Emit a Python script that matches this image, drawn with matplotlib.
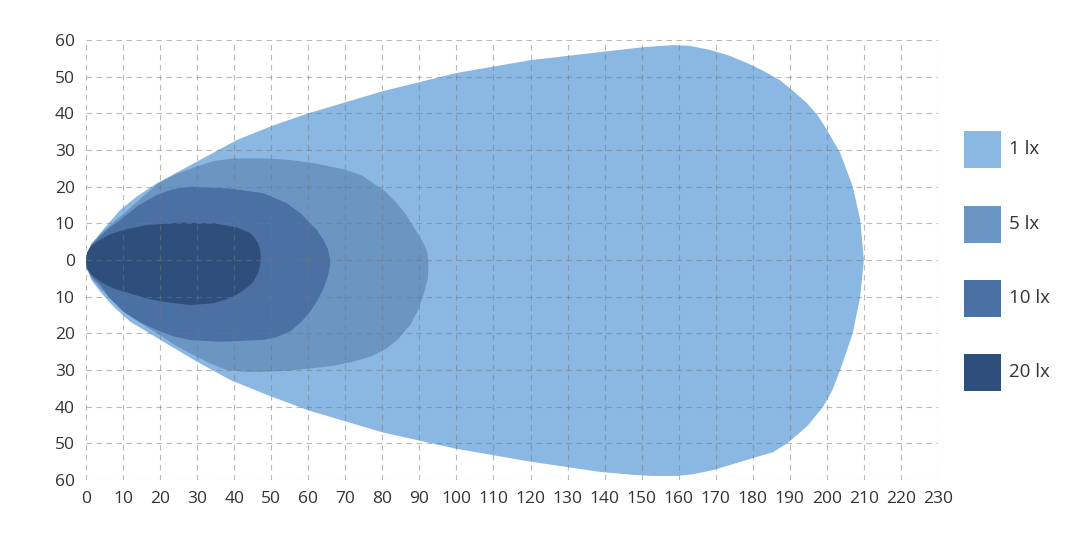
import matplotlib
matplotlib.use("Agg")
from matplotlib import pyplot as plt
from matplotlib.patches import Rectangle

plt.rcParams['font.family'] = ['Open Sans', 'DejaVu Sans']

# isolux outlines (x = distance, y = lateral)
lx1_x = [0, 0.3, 1.1, 3.8, 6.5, 9.2, 13.7, 19.1, 29.9, 40.7, 50, 60, 80, 100, 120, 138.8, 150,
         158.5, 163, 168.5, 173.5, 178.5, 183, 187.4, 191, 194.6, 197.5, 200, 203.6, 207, 209,
         209.8, 210,
         209.8, 209, 207, 203.6, 201.5, 199, 195, 192.8, 189.3, 185.5, 178.5, 169.3, 164,
         159.6, 153, 147.7, 138.8, 120, 100, 80, 60, 48.9, 38.9, 29.9, 20.9, 11.9, 7.4, 3.8,
         1.5, 0.2]
lx1_y = [0, 1.8, 3.6, 7.3, 10.5, 13.6, 17.3, 20.9, 26.8, 32.7, 36.5, 40, 46, 51, 54.5, 56.7, 58,
         58.6, 58.4, 57.3, 55.8, 53.7, 51.5, 49, 46, 42.8, 39.5, 35.5, 29.2, 20, 11,
         2, 0,
         -2, -10, -20, -30, -35.5, -40, -45, -47, -50, -52.4, -54.5, -57.3, -58.4,
         -58.9, -58.9, -58.6, -57.8, -55, -51.5, -47, -41, -36.8, -32.7, -27.7, -22.3, -16.8, -12.7, -8.6,
         -5.5, -2.3]

lx5_x = [0, 0.3, 1.5, 3.8, 6.5, 10, 15, 19.5, 24.5, 29.9, 34.5, 39.8, 48.8, 55, 61.4, 66, 70.4,
         74.5, 77.6, 81, 83.9, 86.3, 88.4, 90.3, 92, 92.4,
         92.4, 92.3, 91.1, 89.5, 87.5, 84.5, 81.2, 77, 72.2, 67, 61.4, 54.5, 47.9, 43, 38,
         33.5, 29, 24.5, 20, 16, 11.9, 7.5, 3.8, 1.5, 0.3]
lx5_y = [0, 2, 4.5, 7, 9.5, 12.5, 17, 20.9, 23.5, 25.5, 27, 27.7, 27.7, 27.3, 26.4, 25.5, 24.5,
         23, 20.9, 18.5, 15.5, 12.5, 9.1, 6, 2.7, 0,
         -1.4, -5, -9.5, -14, -17.7, -21.3, -24.1, -26.3, -27.7, -28.8, -29.5, -30.2, -30.5, -30.5, -30,
         -28.2, -25.9, -23.5, -20.5, -18, -15, -11.5, -7.7, -5, -2.3]

lx10_x = [0, 0.3, 1.5, 3.8, 6.5, 9.2, 14, 19.1, 23.5, 28.1, 38.9, 47.9, 54.2, 58, 60.5, 62.5,
          64.1, 65.3, 65.9,
          65.9, 65.3, 64.1, 62.5, 60.5, 58, 55.1, 51.5, 47.9, 36.2, 28.1, 23.5, 19.1, 14.5,
          10.1, 6.5, 3.8, 1.5, 0.3]
lx10_y = [0, 2, 4, 6.5, 9, 10.9, 14.8, 17.7, 19.3, 20, 19.5, 18.2, 15.5, 12.7, 10, 8,
          5.5, 3, 0,
          -1.4, -4.5, -7.7, -11, -14.1, -17, -19.5, -21, -21.8, -22.3, -21.8, -20.8, -19.1, -17,
          -14.1, -10.5, -6.8, -4.5, -2.3]

lx20_x = [0, 0.3, 1.5, 3.8, 6.5, 10.1, 16.4, 25.4, 34.4, 40.7, 44, 45.2, 46.5, 47, 47.2, 47,
          46.5, 45.2, 43.5, 40.7, 38, 34.4, 28.1, 20.9, 16, 11.9, 7.5, 3.8, 1.5, 0.2]
lx20_y = [0, 2, 4, 5.5, 7, 8.2, 9.5, 10.2, 10, 8.9, 7.5, 6.4, 4.5, 2.7, 0.5, -1.4,
          -3.5, -5.9, -7.5, -9.5, -10.7, -11.8, -12.3, -11.4, -10.4, -9.1, -7.8, -5.9, -4, -2.3]

labels = ['1 lx', '5 lx', '10 lx', '20 lx']
colors = ['#8ab8e2', '#6b96c3', '#4a70a4', '#2e4f7c']

xticks = list(range(0, 231, 10))
yticks = list(range(-60, 61, 10))

fig = plt.figure(figsize=(10.71, 5.42), dpi=100)
ax = fig.add_axes([0.0803, 0.1144, 0.7955, 0.8118])

shapes = [(lx1_x, lx1_y), (lx5_x, lx5_y), (lx10_x, lx10_y), (lx20_x, lx20_y)]
for (xs, ys), c in zip(shapes, colors):
    ax.fill(xs, ys, color=c, lw=0, zorder=1)

ax.set_xlim(0, 230)
ax.set_ylim(-60, 60)
ax.set_xticks(xticks)
ax.set_yticks(yticks)
ax.set_yticklabels([str(abs(v)) for v in yticks])
ax.grid(True, color='#777777', alpha=0.5, linestyle=(0, (5, 4)), linewidth=0.8, zorder=2)
ax.set_axisbelow(False)
for s in ax.spines.values():
    s.set_visible(False)
ax.tick_params(length=0, labelsize=12.5, labelcolor='#333333', pad=8)

# legend squares on the right
y_centers = [149, 224, 298, 372]
for lab, c, yc in zip(labels, colors, y_centers):
    fy = 1 - yc / 542
    fig.add_artist(Rectangle((964 / 1071, fy - 18.5 / 542), 37 / 1071, 37 / 542,
                             transform=fig.transFigure, color=c, lw=0))
    fig.text(1009 / 1071, fy, lab, ha='left', va='center', fontsize=13.5, color='#333333')

fig.savefig('out.png', dpi=100)
